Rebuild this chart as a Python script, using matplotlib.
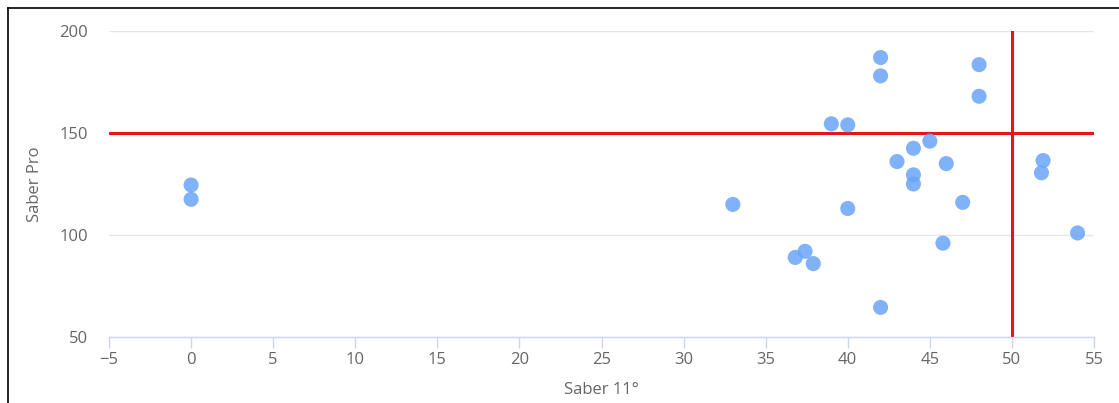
import matplotlib
matplotlib.use("Agg")
import matplotlib.pyplot as plt
from matplotlib.lines import Line2D

saber11 = [0, 0, 33, 36.8, 37.4, 37.9, 39, 40, 40, 42, 42, 42, 43, 44, 44, 44,
           45, 45.8, 46, 47, 48, 48, 51.9, 51.8, 54]
saberpro = [124.5, 117.5, 115, 89, 92, 86, 154.5, 154, 113, 187, 178, 64.5, 136,
            142.5, 129.5, 125, 146, 96, 135, 116, 183.5, 168, 136.5, 130.5, 101]
x_ref = 50
y_ref = 150
xticks = list(range(-5, 56, 5))
yticks = [50, 100, 150, 200]

plt.rcParams['font.family'] = ['Open Sans', 'DejaVu Sans']

W, H = 1119, 403
fig = plt.figure(figsize=(W / 100, H / 100), dpi=100)
ax = fig.add_axes([109 / W, 1 - 337 / H, (1094 - 109) / W, (337 - 31) / H])

ax.set_xlim(-5, 55)
ax.set_ylim(50, 200)
ax.set_xticks(xticks)
ax.set_yticks(yticks)
ax.set_xticklabels([str(t).replace('-', '\u2212') for t in xticks])

for s in ['top', 'right', 'left']:
    ax.spines[s].set_visible(False)
ax.spines['bottom'].set_color('#ccd6eb')
ax.spines['bottom'].set_linewidth(1)

ax.grid(axis='y', color='#e6e6e6', linewidth=1)
ax.set_axisbelow(True)
ax.tick_params(axis='x', length=8, width=1, color='#ccd6eb', labelcolor='#666666',
               labelsize=12, pad=3)
ax.tick_params(axis='y', length=0, labelcolor='#666666', labelsize=12, pad=15)

ax.axhline(y_ref, color='#e3161c', linewidth=2.2, zorder=2)
ax.axvline(x_ref, color='#e3161c', linewidth=2.2, zorder=2)

ax.scatter(saber11, saberpro, s=118, color='#6aa5f8', alpha=0.85, edgecolors='none', zorder=3)

ax.set_xlabel('Saber 11°', color='#666666', fontsize=12, labelpad=10)
ax.set_ylabel('Saber Pro', color='#666666', fontsize=12, labelpad=12)

# outer frame (left and top)
fig.add_artist(Line2D([8 / W, 8 / W], [0, 1 - 8 / H], transform=fig.transFigure,
                      color='black', linewidth=1.2))
fig.add_artist(Line2D([8 / W, 1], [1 - 8 / H, 1 - 8 / H], transform=fig.transFigure,
                      color='black', linewidth=1.2))

fig.savefig('out.png', dpi=100)
